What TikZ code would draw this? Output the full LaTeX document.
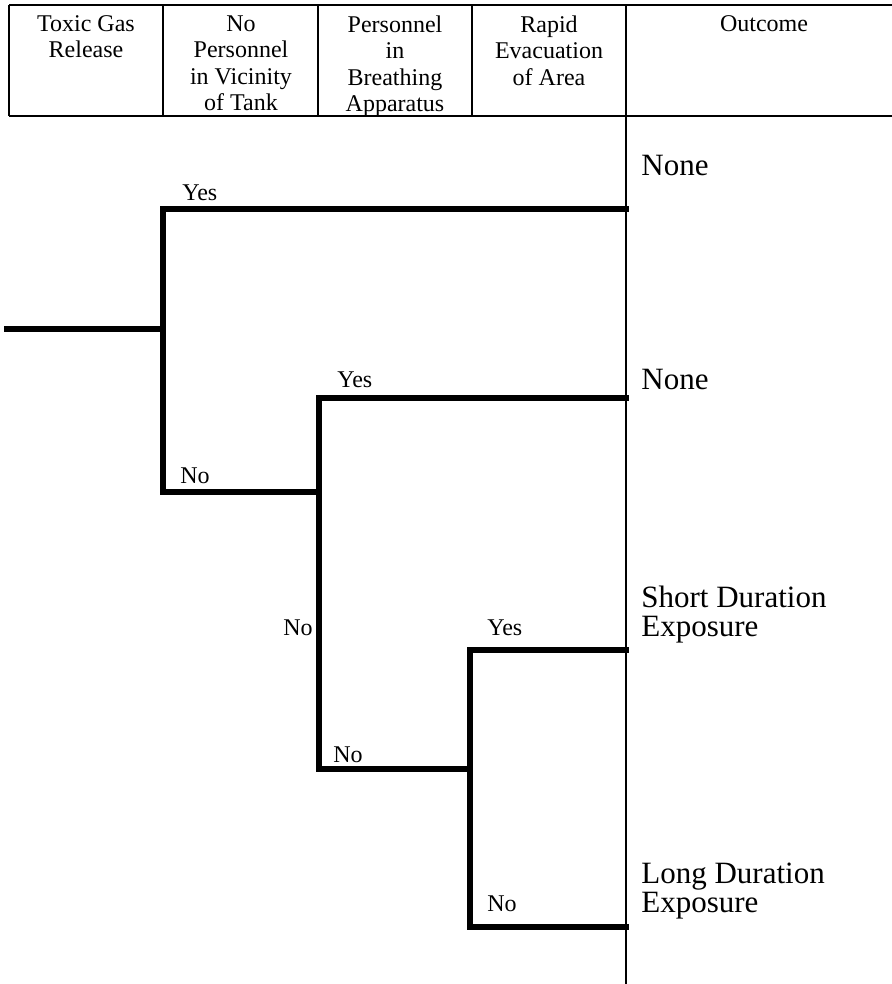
\documentclass[tikz,border=0pt]{standalone}
\usepackage{fontspec}
\setmainfont{Liberation Serif}
\usepackage{tikz}
\tikzstyle{head} = [anchor=north, inner sep=0pt, align=center, font=\fontsize{12}{13.25}\selectfont]
\tikzstyle{tag} = [anchor=base west, inner sep=0pt, font=\fontsize{12}{14}\selectfont]
\tikzstyle{outcome} = [anchor=west, inner sep=0pt, align=left, font=\fontsize{15.5}{14.5}\selectfont]
\tikzstyle{rule} = [line width=1pt]
\tikzstyle{heavyrule} = [line width=1.4pt]
\tikzstyle{branch} = [line width=2.8pt, line join=miter, line cap=rect]

\begin{document}
\begin{tikzpicture}[x=0.5pt, y=-0.5pt]
\useasboundingbox (0,0) rectangle (892,984);

% header table
\coordinate (tl) at (9,5);
\coordinate (tr) at (892,5);
\coordinate (bl) at (9,116);
\coordinate (br) at (892,116);
\coordinate (base) at (626,984);
\draw [heavyrule] (tl) -- (tr);
\draw [heavyrule] (bl) -- (br);
\draw [rule] (tl) -- (bl);
\draw [rule] (163,5) -- (163,116);
\draw [rule] (318,5) -- (318,116);
\draw [rule] (472,5) -- (472,116);
\draw [heavyrule] (626,5) -- (base);

\node (release) [head] at (86,15) {Toxic Gas\\Release};
\node (vicinity) [head] at (241,15) {No\\Personnel\\in Vicinity\\of Tank};
\node (breathing) [head] at (395,15) {Personnel\\in\\Breathing\\Apparatus};
\node (evacuation) [head] at (549,15) {Rapid\\Evacuation\\of Area};
\node (outcomehd) [head] at (764,15) {Outcome};

% tree
\coordinate (root) at (7,329);
\coordinate (fork1) at (163,329);
\coordinate (fork2) at (319,492);
\coordinate (fork3) at (470,769);
\coordinate (end1) at (626,209);
\coordinate (end2) at (626,398);
\coordinate (end3) at (626,650);
\coordinate (end4) at (626,927);

\draw [branch] (root) -- (fork1);
\draw [branch] (end1) -| (fork1) |- (fork2);
\draw [branch] (end2) -| (fork2) |- (fork3);
\draw [branch] (end3) -| (fork3) |- (end4);

\node (yes1) [tag] at (182,201) {Yes};
\node (no1) [tag] at (180,483) {No};
\node (yes2) [tag] at (337,387) {Yes};
\node (no2) [tag] at (283,635) {No};
\node (no3) [tag] at (333,762) {No};
\node (yes3) [tag] at (487,635) {Yes};
\node (no4) [tag] at (487,911) {No};

% outcomes
\node (none1) [outcome] at (641,166) {None};
\node (none2) [outcome] at (641,379) {None};
\node (short) [outcome] at (641,615) {Short Duration\\Exposure};
\node (long) [outcome] at (641,891) {Long Duration\\Exposure};

\end{tikzpicture}
\end{document}
